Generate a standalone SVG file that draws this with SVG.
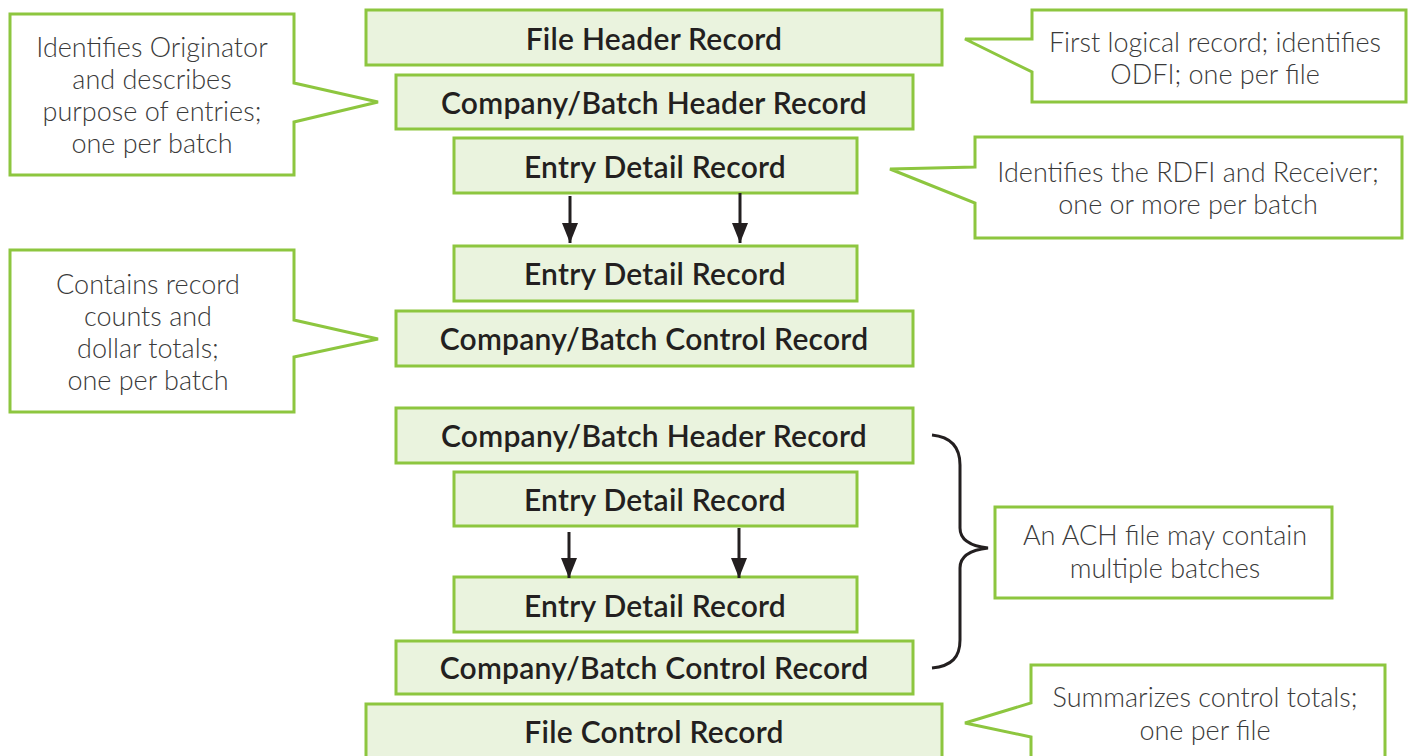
<svg xmlns="http://www.w3.org/2000/svg" width="1410" height="756" viewBox="0 0 1410 756">
<defs>
<style>
.node rect{fill:#eaf3de;stroke:#8dc63f;stroke-width:3}
.node text{font-family:Lato,"Open Sans","Liberation Sans",sans-serif;font-size:30px;font-weight:600;fill:#231f20;text-anchor:middle;letter-spacing:0.25px}
.callout path,.callout rect{fill:#ffffff;stroke:#8dc63f;stroke-width:3;stroke-linejoin:miter}
.callout text{font-family:Lato,"Open Sans","Liberation Sans",sans-serif;font-size:27px;font-weight:300;fill:#3a3a3a;text-anchor:middle}
.conn line{stroke:#231f20;stroke-width:3}
.brace{fill:none;stroke:#231f20;stroke-width:3}
</style>
<marker id="arr" markerWidth="20" markerHeight="16" refX="20" refY="8" orient="auto" markerUnits="userSpaceOnUse" viewBox="0 0 20 16">
<path d="M0,0 L20,8 L0,16 Z" fill="#231f20"/>
</marker>
</defs>
<rect width="1410" height="756" fill="#ffffff"/>

<g id="callout-originator" class="callout">
<path d="M10,14 H294 V83 L378,102 L294,122 V175 H10 Z"/>
<text x="152" y="57">Identifies Originator</text>
<text x="152" y="89">and describes</text>
<text x="152" y="121">purpose of entries;</text>
<text x="152" y="153">one per batch</text>
</g>
<g id="callout-counts" class="callout">
<path d="M10,250 H294 V320 L378,339 L294,357 V412 H10 Z"/>
<text x="148" y="294">Contains record</text>
<text x="148" y="326">counts and</text>
<text x="148" y="358">dollar totals;</text>
<text x="148" y="390">one per batch</text>
</g>
<g id="callout-first" class="callout">
<path d="M1032,10 H1406 V102 H1032 V72 L965,39 H1032 Z"/>
<text x="1215" y="52">First logical record; identifies</text>
<text x="1215" y="84">ODFI; one per file</text>
</g>
<g id="callout-rdfi" class="callout">
<path d="M975,137 H1402 V238 H975 V203 L890,169 L975,167 Z"/>
<text x="1188" y="182">Identifies the RDFI and Receiver;</text>
<text x="1188" y="214">one or more per batch</text>
</g>
<g id="callout-multiple" class="callout">
<rect x="995" y="507" width="337" height="91"/>
<text x="1165" y="545">An ACH file may contain</text>
<text x="1165" y="578">multiple batches</text>
</g>
<g id="callout-summary" class="callout">
<path d="M1031,665 H1385 V760 H1031 V737 L965,723 L1031,703 Z"/>
<text x="1205" y="707">Summarizes control totals;</text>
<text x="1205" y="740">one per file</text>
</g>

<g id="file-header" class="node"><rect x="366" y="10" width="576" height="55"/><text x="654" y="50">File Header Record</text></g>
<g id="batch-header-1" class="node"><rect x="396" y="75" width="517" height="54"/><text x="654" y="114">Company/Batch Header Record</text></g>
<g id="entry-1" class="node"><rect x="454" y="138" width="403" height="55"/><text x="655" y="178">Entry Detail Record</text></g>
<g id="entry-2" class="node"><rect x="454" y="246" width="403" height="55"/><text x="655" y="285">Entry Detail Record</text></g>
<g id="batch-control-1" class="node"><rect x="396" y="311" width="517" height="55"/><text x="654" y="350">Company/Batch Control Record</text></g>
<g id="batch-header-2" class="node"><rect x="396" y="408" width="517" height="55"/><text x="654" y="447">Company/Batch Header Record</text></g>
<g id="entry-3" class="node"><rect x="454" y="472" width="403" height="54"/><text x="655" y="511">Entry Detail Record</text></g>
<g id="entry-4" class="node"><rect x="454" y="577" width="403" height="55"/><text x="655" y="617">Entry Detail Record</text></g>
<g id="batch-control-2" class="node"><rect x="396" y="641" width="517" height="53"/><text x="654" y="679">Company/Batch Control Record</text></g>
<g id="file-control" class="node"><rect x="366" y="704" width="576" height="60"/><text x="654" y="743">File Control Record</text></g>

<g id="connectors" class="conn">
<line x1="570" y1="196" x2="570" y2="243" marker-end="url(#arr)"/>
<line x1="740" y1="193" x2="740" y2="243" marker-end="url(#arr)"/>
<line x1="569" y1="532" x2="569" y2="578" marker-end="url(#arr)"/>
<line x1="739" y1="528" x2="739" y2="578" marker-end="url(#arr)"/>
<path class="brace" d="M932,435 C952,437 960,448 960,465 V528 C960,540 970,546 988,548 C970,550 960,556 960,568 V640 C960,657 952,666 932,668"/>
</g>
</svg>
